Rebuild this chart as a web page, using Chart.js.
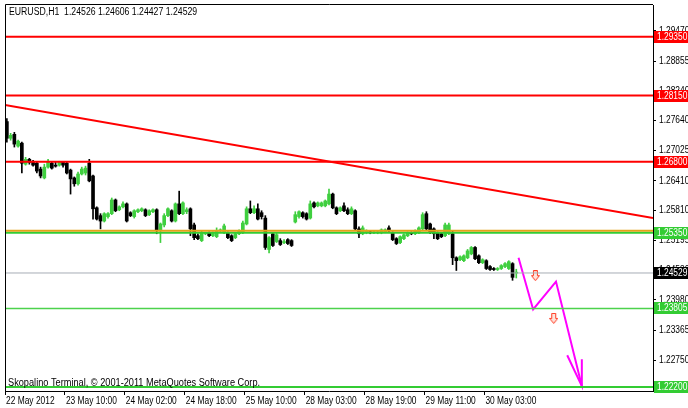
<!DOCTYPE html>
<html>
<head>
<meta charset="utf-8">
<script src="https://cdn.jsdelivr.net/npm/chart.js@4.4.1/dist/chart.umd.min.js"></script>
<style>
  html, body { margin: 0; padding: 0; background: #fff; }
  #wrap { width: 688px; height: 408px; }
</style>
</head>
<body>
<div id="wrap"><canvas id="chart" width="688" height="408"></canvas></div>
<script>
// EURUSD H1, 22-30 May 2012 (bar index 0..136)
const open = [
  1.2762,1.2728,1.2736,1.2712,1.2718,1.2675,1.2685,1.2679,1.2677,1.2665,
  1.2647,1.2669,1.2677,1.2673,1.2673,1.2679,1.2677,1.2663,1.2647,1.2635,
  1.2655,1.2657,1.2677,1.2651,1.2586,1.2570,1.2559,1.2568,1.2574,1.2602,
  1.2582,1.2588,1.2594,1.2576,1.2568,1.2578,1.2580,1.2582,1.2572,1.2578,
  1.2582,1.2541,1.2551,1.2570,1.2580,1.2559,1.2594,1.2574,1.2578,1.2584,
  1.2551,1.2529,1.2519,1.2533,1.2535,1.2529,1.2527,1.2539,1.2535,1.2535,
  1.2529,1.2525,1.2533,1.2535,1.2553,1.2584,1.2576,1.2584,1.2576,1.2565,
  1.2501,1.2533,1.2517,1.2519,1.2515,1.2521,1.2519,1.2557,1.2568,1.2576,
  1.2574,1.2565,1.2596,1.2590,1.2590,1.2590,1.2594,1.2614,1.2586,1.2580,
  1.2590,1.2582,1.2574,1.2580,1.2543,1.2533,1.2537,1.2537,1.2535,1.2535,
  1.2535,1.2537,1.2545,1.2535,1.2523,1.2515,1.2523,1.2529,1.2535,1.2533,
  1.2535,1.2543,1.2574,1.2553,1.2543,1.2535,1.2533,1.2529,1.2533,1.2533,
  1.2484,1.2480,1.2478,1.2484,1.2492,1.2505,1.2488,1.2474,1.2478,1.2466,
  1.2462,1.2460,1.2462,1.2466,1.2462,1.2472,1.24526
];
const high = [
  1.2768,1.2738,1.2740,1.2724,1.2720,1.2689,1.2687,1.2683,1.2679,1.2669,
  1.2675,1.2685,1.2679,1.2679,1.2681,1.2681,1.2679,1.2665,1.2649,1.2659,
  1.2669,1.2671,1.2685,1.2653,1.2588,1.2574,1.2576,1.2576,1.2606,1.2604,
  1.2590,1.2598,1.2596,1.2578,1.2582,1.2584,1.2586,1.2584,1.2582,1.2584,
  1.2584,1.2555,1.2574,1.2586,1.2582,1.2596,1.2620,1.2598,1.2586,1.2586,
  1.2555,1.2533,1.2539,1.2535,1.2537,1.2537,1.2545,1.2543,1.2553,1.2537,
  1.2531,1.2535,1.2541,1.2559,1.2588,1.2600,1.2590,1.2594,1.2580,1.2570,
  1.2527,1.2535,1.2535,1.2523,1.2521,1.2523,1.2521,1.2578,1.2580,1.2578,
  1.2576,1.2600,1.2598,1.2598,1.2598,1.2602,1.2624,1.2616,1.2588,1.2588,
  1.2596,1.2586,1.2588,1.2582,1.2547,1.2549,1.2541,1.2539,1.2539,1.2539,
  1.2543,1.2543,1.2549,1.2537,1.2525,1.2529,1.2533,1.2537,1.2537,1.2541,
  1.2547,1.2576,1.2578,1.2555,1.2545,1.2537,1.2535,1.2555,1.2555,1.2539,
  1.2486,1.2488,1.2490,1.2501,1.2507,1.2507,1.2490,1.2482,1.2480,1.2468,
  1.2464,1.2464,1.2470,1.2474,1.2478,1.2474,1.24606
];
const low = [
  1.2720,1.2724,1.2710,1.2710,1.2657,1.2673,1.2675,1.2671,1.2657,1.2647,
  1.2645,1.2667,1.2665,1.2669,1.2671,1.2669,1.2655,1.2614,1.2630,1.2632,
  1.2653,1.2653,1.2639,1.2563,1.2561,1.2543,1.2557,1.2565,1.2572,1.2578,
  1.2580,1.2586,1.2557,1.2568,1.2565,1.2576,1.2578,1.2568,1.2570,1.2576,
  1.2533,1.2515,1.2547,1.2568,1.2557,1.2557,1.2572,1.2572,1.2574,1.2529,
  1.2521,1.2521,1.2517,1.2531,1.2527,1.2527,1.2525,1.2537,1.2533,1.2523,
  1.2517,1.2523,1.2531,1.2533,1.2551,1.2574,1.2574,1.2561,1.2563,1.2501,
  1.2494,1.2507,1.2515,1.2509,1.2513,1.2511,1.2507,1.2555,1.2565,1.2565,
  1.2561,1.2563,1.2586,1.2588,1.2588,1.2588,1.2592,1.2584,1.2572,1.2578,
  1.2578,1.2572,1.2572,1.2541,1.2525,1.2531,1.2533,1.2533,1.2533,1.2533,
  1.2533,1.2535,1.2537,1.2519,1.2511,1.2513,1.2521,1.2527,1.2531,1.2531,
  1.2533,1.2541,1.2541,1.2533,1.2523,1.2521,1.2525,1.2527,1.2531,1.2470,
  1.2458,1.2478,1.2476,1.2482,1.2490,1.2480,1.2472,1.2472,1.2460,1.2458,
  1.2458,1.2458,1.2460,1.2464,1.2460,1.2438,1.24427
];
const close = [
  1.2728,1.2734,1.2716,1.2722,1.2677,1.2685,1.2679,1.2673,1.2661,1.2651,
  1.2669,1.2681,1.2667,1.2671,1.2679,1.2673,1.2657,1.2645,1.2635,1.2655,
  1.2665,1.2667,1.2641,1.2584,1.2563,1.2559,1.2574,1.2574,1.2602,1.2580,
  1.2588,1.2594,1.2559,1.2570,1.2580,1.2582,1.2584,1.2570,1.2580,1.2582,
  1.2541,1.2553,1.2570,1.2584,1.2559,1.2594,1.2574,1.2596,1.2582,1.2543,
  1.2525,1.2523,1.2535,1.2533,1.2529,1.2535,1.2539,1.2541,1.2549,1.2525,
  1.2519,1.2533,1.2539,1.2555,1.2584,1.2576,1.2584,1.2563,1.2568,1.2505,
  1.2525,1.2509,1.2531,1.2511,1.2517,1.2513,1.2509,1.2572,1.2578,1.2568,
  1.2563,1.2594,1.2588,1.2596,1.2596,1.2600,1.2614,1.2586,1.2574,1.2586,
  1.2580,1.2574,1.2584,1.2543,1.2533,1.2545,1.2539,1.2535,1.2537,1.2537,
  1.2541,1.2541,1.2539,1.2521,1.2513,1.2527,1.2531,1.2535,1.2533,1.2539,
  1.2545,1.2572,1.2543,1.2537,1.2533,1.2523,1.2527,1.2551,1.2551,1.2484,
  1.2478,1.2486,1.2488,1.2498,1.2505,1.2482,1.2474,1.2480,1.2462,1.2460,
  1.2460,1.2462,1.2468,1.2472,1.2476,1.2444,1.24529
];

// time axis: label every 16 bars
const timeTickPos = [-0.5, 15.5, 31.5, 47.5, 63.5, 79.5, 95.5, 111.5, 127.5];
const timeLabels = ['22 May 2012', '23 May 10:00', '24 May 02:00', '24 May 18:00',
  '25 May 10:00', '28 May 03:00', '28 May 19:00', '29 May 11:00', '30 May 03:00'];

// price axis
const priceTicks = [1.29470, 1.28855, 1.28240, 1.27640, 1.27025, 1.26410,
  1.25810, 1.25195, 1.24580, 1.23980, 1.23365, 1.22750];

// horizontal levels
const redLevels = [1.29350, 1.28150, 1.26800];
const greenLevels = [1.25350, 1.23805, 1.22200];
const orangeLevel = 1.2539;
const bidLevel = 1.24529;

// trend line (bar index, price)
const trendX = [-0.5, 172.5];
const trendY = [1.27959, 1.25653];

// forecast zigzag + arrow head
const zigX = [136.6, 140.5, 146.6, 153.5];
const zigY = [1.24841, 1.23785, 1.24353, 1.22220];
const headX = [149.6, 153.5, 153.5];
const headY = [1.22850, 1.22220, 1.22769];

// down-arrow signals
const sigX = [141.1, 146.0];
const sigY = [1.24475, 1.23602];

const BULL = '#3fcf3f';
const BEAR = '#000000';
const FONT = '10px "Liberation Sans", Arial, sans-serif';
const SX = 0.84; // terminal font is narrower than Arial

const isBull = close.map((c, i) => c >= open[i]);
const candleColors = isBull.map(b => b ? BULL : BEAR);

function hline(v, color, width) {
  return {
    type: 'line',
    data: [{ x: -0.5, y: v }, { x: 172.5, y: v }],
    borderColor: color,
    borderWidth: width,
    pointRadius: 0,
    order: 0
  };
}

function makeArrow() {
  const c = document.createElement('canvas');
  c.width = 9; c.height = 11;
  const g = c.getContext('2d');
  g.beginPath();
  g.moveTo(2.5, 0.5); g.lineTo(6.5, 0.5); g.lineTo(6.5, 5.5); g.lineTo(8.5, 5.5);
  g.lineTo(4.5, 10.5); g.lineTo(0.5, 5.5); g.lineTo(2.5, 5.5); g.closePath();
  g.fillStyle = '#ffe4dc';
  g.fill();
  g.strokeStyle = '#ff3b22';
  g.lineWidth = 1;
  g.stroke();
  return c;
}

// narrow text helper
function txt(ctx, s, x, y, sx = SX) {
  ctx.save();
  ctx.translate(x, y);
  ctx.scale(sx, 1);
  ctx.fillText(s, 0, 0);
  ctx.restore();
}

const boxes = [
  ...redLevels.map(v => ({ v, color: '#ff0000' })),
  ...greenLevels.map(v => ({ v, color: '#33cc33' })),
  { v: bidLevel, color: '#000000' }
];

const terminalPlugin = {
  id: 'terminal',
  beforeDraw(chart) {
    const ctx = chart.ctx;
    ctx.save();
    ctx.fillStyle = '#ffffff';
    ctx.fillRect(0, 0, chart.width, chart.height);
    ctx.restore();
  },
  afterDraw(chart) {
    const ctx = chart.ctx;
    const a = chart.chartArea;
    const x = chart.scales.x;
    const y = chart.scales.y;
    ctx.save();
    // frame
    ctx.strokeStyle = '#000';
    ctx.lineWidth = 1;
    ctx.beginPath();
    ctx.moveTo(a.left + 0.5, a.bottom);
    ctx.lineTo(a.left + 0.5, a.top - 0.5);
    ctx.lineTo(a.right, a.top - 0.5);
    ctx.stroke();

    ctx.font = FONT;
    ctx.textBaseline = 'middle';
    ctx.textAlign = 'left';
    ctx.fillStyle = '#000';
    txt(ctx, 'EURUSD,H1  1.24526 1.24606 1.24427 1.24529', a.left + 4, a.top + 7, 0.87);
    txt(ctx, 'Skopalino Terminal, \u00a9 2001-2011 MetaQuotes Software Corp.', a.left + 3, a.bottom - 8, 0.92);

    // time labels
    timeTickPos.forEach((v, k) => {
      txt(ctx, timeLabels[k], x.getPixelForValue(v) + 1, a.bottom + 10);
    });
    // price labels
    priceTicks.forEach(v => {
      txt(ctx, v.toFixed(5), a.right + 6, y.getPixelForValue(v));
    });

    // price boxes on the right axis
    boxes.forEach(b => {
      const py = Math.round(y.getPixelForValue(b.v));
      ctx.fillStyle = b.color;
      ctx.fillRect(a.right + 1, py - 6, chart.width - a.right, 12);
      ctx.fillStyle = '#fff';
      txt(ctx, b.v.toFixed(5), a.right + 4, py + 0.5);
    });
    ctx.restore();
  }
};

new Chart(document.getElementById('chart'), {
  type: 'bar',
  data: {
    datasets: [
      ...redLevels.map(v => hline(v, '#ff0000', 2)),
      hline(orangeLevel, '#e3a21a', 2),
      hline(greenLevels[0], '#33cc33', 2),
      hline(greenLevels[1], '#4cd24c', 1.5),
      hline(greenLevels[2], '#33cc33', 2),
      hline(bidLevel, '#a7adb5', 1),
      {
        type: 'line',
        data: trendX.map((x, i) => ({ x, y: trendY[i] })),
        borderColor: '#ff0000', borderWidth: 2, pointRadius: 0, order: 0
      },
      {
        type: 'line',
        data: zigX.map((x, i) => ({ x, y: zigY[i] })),
        borderColor: '#ff00ff', borderWidth: 2, pointRadius: 0, order: 0
      },
      {
        type: 'line',
        data: headX.map((x, i) => ({ x, y: headY[i] })),
        borderColor: '#ff00ff', borderWidth: 2, pointRadius: 0, order: 0
      },
      {
        type: 'scatter',
        data: sigX.map((x, i) => ({ x, y: sigY[i] })),
        pointStyle: makeArrow(),
        order: 0
      },
      {
        // wicks
        data: open.map((_, i) => ({ x: i, y: [low[i], high[i]] })),
        backgroundColor: candleColors,
        barThickness: 1,
        grouped: false,
        order: 2
      },
      {
        // bodies
        data: open.map((o, i) => ({ x: i, y: [o, close[i]] })),
        backgroundColor: candleColors,
        barThickness: 3,
        minBarLength: 1,
        grouped: false,
        order: 1
      }
    ]
  },
  options: {
    responsive: false,
    animation: false,
    events: [],
    layout: { padding: { left: 2, top: 3, right: 0, bottom: 0 } },
    plugins: { legend: { display: false }, tooltip: { enabled: false } },
    scales: {
      x: {
        type: 'linear',
        min: -0.5,
        max: 172.5,
        offset: false,
        afterBuildTicks: s => { s.ticks = timeTickPos.map(v => ({ value: v })); },
        afterFit: s => { s.height = 17; },
        grid: { offset: false, drawOnChartArea: false, drawTicks: true, tickLength: 4, color: '#000' },
        border: { display: true, color: '#000' },
        ticks: { display: false, autoSkip: false, maxRotation: 0 }
      },
      y: {
        position: 'right',
        min: 1.2212,
        max: 1.3000,
        afterBuildTicks: s => { s.ticks = priceTicks.map(v => ({ value: v })); },
        afterFit: s => { s.width = 35; },
        grid: { drawOnChartArea: false, drawTicks: true, tickLength: 3, color: '#000' },
        border: { display: true, color: '#000' },
        ticks: { display: false, autoSkip: false }
      }
    }
  },
  plugins: [terminalPlugin]
});
</script>
</body>
</html>
